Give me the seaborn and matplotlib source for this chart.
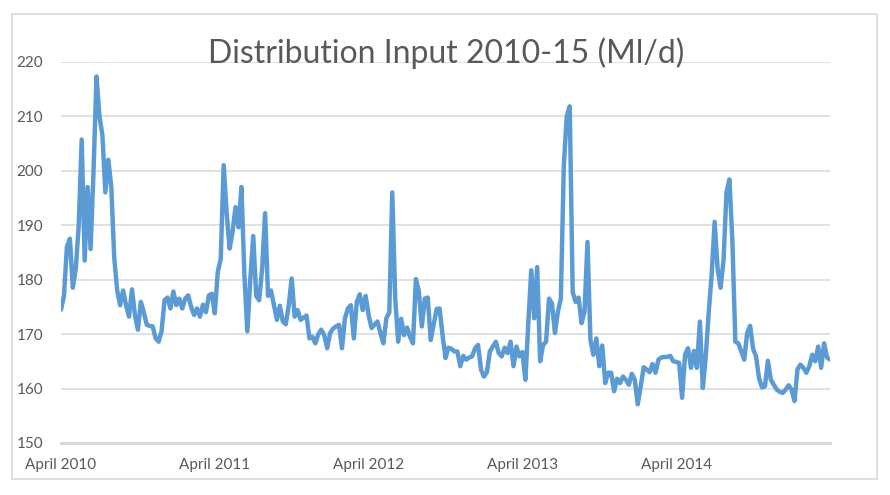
import numpy as np
import pandas as pd
import matplotlib
matplotlib.use("Agg")
import matplotlib.pyplot as plt
from matplotlib.patches import Rectangle
import seaborn as sns

# --- chart data (weekly distribution input, Ml/d) ---
TITLE = "Distribution Input 2010-15 (Ml/d)"

# April 2010 - March 2011
DI_2010 = [174.5, 177, 186, 187.5, 178.5, 182, 190, 205.7, 183.5, 197,
           185.6, 200, 217.3, 210, 206.5, 196, 202, 197, 184, 178,
           175.3, 178, 175.3, 173.2, 178.2, 173.5, 170.8, 175.9, 174, 171.7,
           171.5, 171.4, 169.2, 168.6, 170.5, 176.2, 176.7, 174.7, 177.8, 175.3,
           176.5, 174.7, 176.5, 177.1, 175, 173.5, 174.7, 173.2, 175.4, 174,
           177.1, 177.4]
# April 2011 - March 2012
DI_2011 = [173.8, 181.4, 183.8, 201, 192.3, 185.7, 188.7, 193.3, 189.6, 197,
           181, 170.5, 180, 188, 177, 176.2, 182, 192.2, 177, 178,
           175.3, 172.6, 175.2, 172.3, 171.8, 175.3, 180.2, 173.2, 174.4, 172.6,
           173, 173.4, 169.2, 169.5, 168.3, 170, 170.8, 169.8, 167.4, 170.2,
           171, 171.4, 171.7, 167.4, 172.9, 174.7, 175.3, 169.2, 175.9, 177.3,
           174.4, 177]
# April 2012 - March 2013
DI_2012 = [173.5, 171.1, 171.7, 172.3, 170.2, 168.3, 172.9, 174, 196, 176.5,
           168.6, 172.8, 169.8, 171.2, 169.5, 168.3, 180.1, 177.8, 171.4, 176.5,
           176.7, 168.9, 171.7, 174.6, 174.7, 169.8, 165.6, 167.5, 167.3, 166.8,
           166.8, 164.1, 166, 165.3, 165.7, 165.9, 167.4, 168, 163.5, 162.2,
           163, 166.8, 167.7, 168.6, 166.5, 165.9, 167.5, 166.5, 168.6, 164.1,
           167.7, 165.9]
# April 2013 - March 2014
DI_2013 = [166.7, 161.6, 172, 181.7, 172.9, 182.3, 165, 168, 168.6, 176.5,
           175.6, 170.2, 174.1, 176.5, 200.9, 210, 211.8, 177.7, 175.9, 176.7,
           172, 174.1, 186.9, 168.9, 166.2, 169.2, 164.1, 167.9, 161, 162.9,
           162.9, 159.5, 161.8, 161, 162.2, 161.6, 160.7, 162.7, 161.6, 157.1,
           160.4, 163.9, 163.5, 163, 164.5, 162.9, 165.3, 165.7, 165.8, 165.8,
           166, 165]
# April 2014 - March 2015
DI_2014 = [164.9, 164.7, 158.3, 166.2, 167.4, 163.8, 166.9, 163.8, 172.3, 160.1,
           166, 174, 181, 190.6, 182, 178.5, 183.5, 196, 198.4, 187,
           168.6, 168.3, 166.8, 165.3, 170.2, 171.5, 167.3, 165.9, 161.9, 160.2,
           160.4, 165.1, 161.6, 160.7, 159.8, 159.4, 159.2, 159.8, 160.6, 159.8,
           157.7, 163.5, 164.4, 163.8, 162.9, 164.1, 166.2, 165, 167.7, 163.8,
           168.3, 165.7, 165.3]

X_TICK_WEEKS = [0, 52, 104, 156, 208, 260]
X_TICK_LABELS = ["April 2010", "April 2011", "April 2012", "April 2013", "April 2014", ""]
Y_TICKS = [150, 160, 170, 180, 190, 200, 210, 220]

LINE_COLOR = "#5b9bd5"
GRID_COLOR = "#d9d9d9"
TEXT_COLOR = "#595959"

values = DI_2010 + DI_2011 + DI_2012 + DI_2013 + DI_2014
df = pd.DataFrame({"week": np.arange(len(values)), "ml_d": values})

sns.set_style("white")
plt.rcParams["font.family"] = ["Lato", "DejaVu Sans"]

fig, ax = plt.subplots(figsize=(8.9, 4.95), dpi=100)
fig.subplots_adjust(left=61 / 890, right=830 / 890, bottom=1 - 443 / 495, top=1 - 61.7 / 495)

sns.lineplot(data=df, x="week", y="ml_d", color=LINE_COLOR, linewidth=3.2, ax=ax)
ax.lines[0].set_solid_joinstyle("round")
ax.lines[0].set_solid_capstyle("round")

ax.set_xlim(0, 260)
ax.set_ylim(150, 220)
ax.set_xlabel("")
ax.set_ylabel("")

# gridlines, axis and ticks in the Excel look
ax.set_yticks(Y_TICKS)
ax.yaxis.grid(True, color=GRID_COLOR, linewidth=1.1)
ax.set_axisbelow(True)
ax.tick_params(axis="y", length=0, pad=13, labelsize=11, labelcolor=TEXT_COLOR)

ax.set_xticks(X_TICK_WEEKS)
ax.set_xticklabels(X_TICK_LABELS)
ax.tick_params(axis="x", direction="in", length=4, width=2, color=GRID_COLOR,
               pad=11, labelsize=11, labelcolor=TEXT_COLOR)

for side in ["left", "right", "top"]:
    ax.spines[side].set_visible(False)
ax.spines["bottom"].set_color(GRID_COLOR)
ax.spines["bottom"].set_linewidth(2.2)

# chart title drawn over the plot area like Excel does
fig.text(446 / 890, 1 - 63 / 495, TITLE, ha="center", va="baseline",
         fontsize=23, color=TEXT_COLOR, fontweight="normal")

# light grey chart frame
fig.patches.append(Rectangle((12 / 890, 1 - 479 / 495), 865 / 890, 465 / 495,
                             transform=fig.transFigure, fill=False,
                             edgecolor=GRID_COLOR, linewidth=1.2))

fig.savefig("out.png", dpi=100)
